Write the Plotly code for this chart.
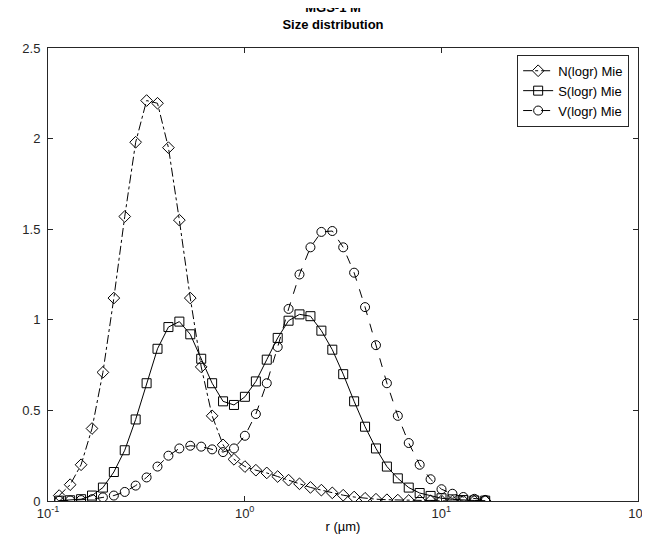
import plotly.graph_objects as go

r_um = [0.114, 0.1296, 0.1473, 0.1674, 0.1902, 0.2162, 0.2456, 0.2791, 0.3172, 0.3604,
        0.4096, 0.4655, 0.5290, 0.6012, 0.6832, 0.7764, 0.8823, 1.003, 1.140, 1.295,
        1.472, 1.672, 1.900, 2.160, 2.455, 2.790, 3.170, 3.602, 4.094, 4.652,
        5.287, 6.008, 6.828, 7.760, 8.818, 10.02, 11.39, 12.94, 14.71, 16.71]

n_logr = [0.03, 0.09, 0.2, 0.4, 0.71, 1.12, 1.57, 1.98, 2.21, 2.195,
          1.95, 1.55, 1.12, 0.74, 0.47, 0.31, 0.23, 0.19, 0.17, 0.155,
          0.135, 0.115, 0.095, 0.075, 0.06, 0.045, 0.032, 0.022, 0.015, 0.01,
          0.007, 0.005, 0.003, 0.002, 0.001, 0.001, 0.0, 0.0, 0.0, 0.0]

s_logr = [0.002, 0.004, 0.01, 0.03, 0.074, 0.16, 0.28, 0.45, 0.65, 0.84,
          0.96, 0.99, 0.92, 0.785, 0.65, 0.55, 0.53, 0.575, 0.66, 0.78,
          0.9, 0.995, 1.03, 1.02, 0.94, 0.835, 0.70, 0.55, 0.41, 0.29,
          0.19, 0.125, 0.074, 0.044, 0.028, 0.015, 0.009, 0.005, 0.003, 0.002]

v_logr = [0.001, 0.003, 0.005, 0.01, 0.02, 0.03, 0.05, 0.085, 0.13, 0.19,
          0.25, 0.29, 0.305, 0.30, 0.285, 0.27, 0.29, 0.36, 0.48, 0.65,
          0.85, 1.06, 1.25, 1.40, 1.485, 1.49, 1.40, 1.26, 1.07, 0.86,
          0.65, 0.47, 0.32, 0.2, 0.12, 0.065, 0.04, 0.022, 0.012, 0.006]

x_ticks = [0.1, 1, 10, 100]
x_ticktext = ["10<sup>-1</sup>", "10<sup>0</sup>", "10<sup>1</sup>", "10<sup>2</sup>"]

fig = go.Figure()
series = [("N(logr) Mie", n_logr, "diamond-open", "dashdot"),
          ("S(logr) Mie", s_logr, "square-open", "solid"),
          ("V(logr) Mie", v_logr, "circle-open", "dash")]
for name, vals, sym, dash in series:
    fig.add_trace(go.Scatter(
        x=r_um, y=vals, name=name, mode="lines+markers",
        line=dict(color="black", width=1, dash=dash),
        marker=dict(symbol=sym, size=9, color="black", line=dict(width=1))))

axis_style = dict(showline=True, linecolor="#262626", linewidth=1, mirror="ticks",
                  ticks="inside", ticklen=5, tickcolor="#262626", showgrid=False,
                  zeroline=False, automargin=False,
                  tickfont=dict(size=13, color="#262626"))
fig.update_xaxes(type="log", range=[-1, 2], tickvals=x_ticks, ticktext=x_ticktext,
                 title=dict(text="r (µm)", font=dict(size=13), standoff=2), **axis_style)
fig.update_yaxes(range=[0, 2.5], tickvals=[0, 0.5, 1, 1.5, 2, 2.5],
                 ticktext=["0", "0.5", "1", "1.5", "2", "2.5"], ticklabelstandoff=4,
                 **axis_style)

fig.update_layout(
    width=650, height=542,
    margin=dict(l=40, r=20, t=40, b=49),
    paper_bgcolor="white", plot_bgcolor="white",
    font=dict(family="Liberation Sans, Arial, sans-serif", color="black"),
    title=dict(text="<b>MGS-1 M<br>Size distribution</b>", x=0.5, xanchor="center",
               y=0.993, yanchor="top", font=dict(size=13)),
    legend=dict(x=0.985, y=0.985, xanchor="right", yanchor="top",
                bordercolor="#262626", borderwidth=1, bgcolor="white",
                font=dict(size=13), itemwidth=30),
)

fig.write_html("out.html")
